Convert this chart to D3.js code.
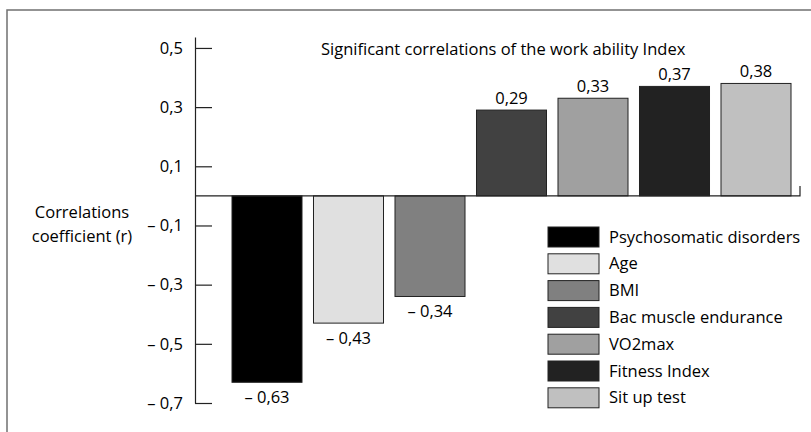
<!DOCTYPE html>
<html>
<head>
<meta charset="utf-8">
<script src="https://cdn.jsdelivr.net/npm/d3@7"></script>
<style>
  html, body { margin: 0; padding: 0; background: #fff; }
  svg { display: block; font-family: "Open Sans", sans-serif; }
</style>
</head>
<body>
<svg id="chart" width="811" height="432"></svg>
<script>
const categories = ["Psychosomatic disorders", "Age", "BMI", "Bac muscle endurance", "VO2max", "Fitness Index", "Sit up test"];
const values = [-0.63, -0.43, -0.34, 0.29, 0.33, 0.37, 0.38];
const colors = ["#000000", "#e0e0e0", "#808080", "#414141", "#a0a0a0", "#222222", "#c0c0c0"];
const tickValues = [0.5, 0.3, 0.1, -0.1, -0.3, -0.5, -0.7];
const title = "Significant correlations of the work ability Index";
const yTitle = ["Correlations", "coefficient (r)"];

const FS = 16.5;
const svg = d3.select("#chart");

// frame
svg.append("rect").attr("x", 7).attr("y", 10).attr("width", 900).attr("height", 600)
  .attr("fill", "none").attr("stroke", "#707070").attr("stroke-width", 1.5);

const fmt = v => {
  const s = Math.abs(v).toFixed(String(v).split(".")[1].length).replace(".", ",");
  return v < 0 ? "\u2013 " + s : s;
};

const y = d3.scaleLinear().domain([-0.7, 0.537]).range([403, 37]);
const x = d3.scaleBand().domain(categories).range([226.25, 796.75])
  .paddingInner(0.141).paddingOuter(0.0705);
const axisX = 195;

// y axis
const yAxis = d3.axisLeft(y).tickValues(tickValues)
  .tickSizeInner(-17).tickSizeOuter(0).tickPadding(12).tickFormat(fmt);
const gy = svg.append("g").attr("transform", `translate(${axisX},0)`).call(yAxis);
gy.select(".domain").attr("stroke", "#222").attr("stroke-width", 1.2);
gy.selectAll(".tick line").attr("stroke", "#222").attr("stroke-width", 1.2);
gy.selectAll(".tick text").attr("font-size", FS).attr("fill", "#000")
  .attr("font-family", "'Open Sans', sans-serif");

// bars
svg.append("g").selectAll("rect").data(values).join("rect")
  .attr("x", (d, i) => x(categories[i]))
  .attr("width", x.bandwidth())
  .attr("y", d => Math.min(y(0), y(d)))
  .attr("height", d => Math.abs(y(d) - y(0)))
  .attr("fill", (d, i) => colors[i])
  .attr("stroke", "#222").attr("stroke-width", 1);

// zero baseline
const xEnd = 800;
svg.append("path")
  .attr("d", `M${axisX},${y(0)}H${xEnd}V${y(0) - 10}`)
  .attr("fill", "none").attr("stroke", "#222").attr("stroke-width", 1.2);

// value labels
svg.append("g").selectAll("text").data(values).join("text")
  .attr("x", (d, i) => x(categories[i]) + x.bandwidth() / 2)
  .attr("y", d => d < 0 ? y(d) + 21 : y(d) - 6)
  .attr("text-anchor", "middle").attr("font-size", FS).attr("fill", "#000")
  .text(fmt);

// title
svg.append("text").attr("x", 321).attr("y", 55).attr("font-size", FS).attr("fill", "#000")
  .text(title);

// y title
svg.append("g").selectAll("text").data(yTitle).join("text")
  .attr("x", 82).attr("y", (d, i) => 218 + i * 24)
  .attr("text-anchor", "middle").attr("font-size", FS).attr("fill", "#000")
  .text(d => d);

// legend
const lg = svg.append("g").selectAll("g").data(categories).join("g")
  .attr("transform", (d, i) => `translate(548,${227 + i * 26.8})`);
lg.append("rect").attr("width", 51).attr("height", 20)
  .attr("fill", (d, i) => colors[i]).attr("stroke", "#222").attr("stroke-width", 1);
lg.append("text").attr("x", 61).attr("y", 15.5).attr("font-size", FS).attr("fill", "#000")
  .text(d => d);
</script>
</body>
</html>
